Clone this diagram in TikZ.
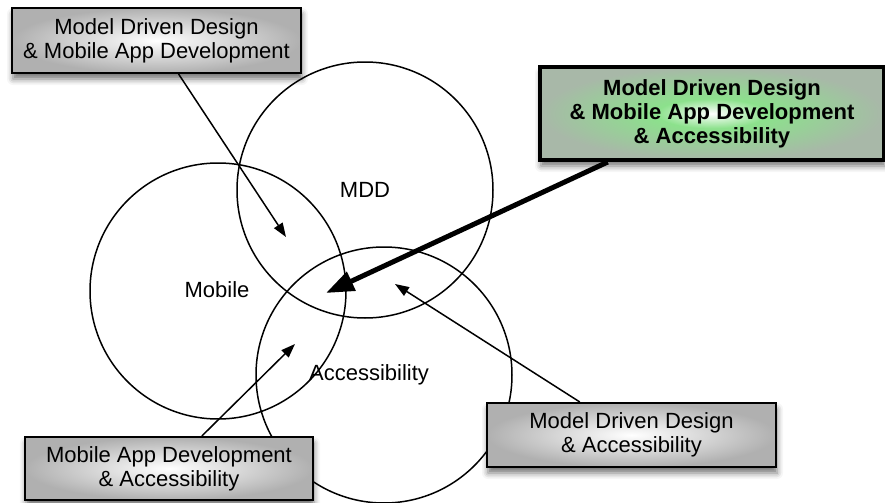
\documentclass[tikz,border=0pt]{standalone}
\usepackage{fontspec}
\setmainfont{Liberation Sans}
\usetikzlibrary{arrows.meta,shadows.blur}
\definecolor{glowgreen}{RGB}{140,225,140}
\definecolor{glowedge}{RGB}{168,184,168}
\pgfdeclareradialshading{greenglow}{\pgfpoint{0bp}{0bp}}{color(0bp)=(white); color(8bp)=(glowgreen); color(25bp)=(glowedge); color(50bp)=(glowedge)}
\begin{document}
\begin{tikzpicture}[
			x=0.5pt, y=-0.5pt,
			font=\fontsize{11}{12}\selectfont,
			set/.style={circle, draw, line width=0.75pt, minimum size=128pt, inner sep=0pt},
			combo/.style={rectangle, draw, line width=1pt, align=center, shading=radial,
					inner color=white, outer color=gray!62,
					blur shadow={shadow xshift=0.5pt, shadow yshift=-3pt, shadow blur radius=3pt, shadow opacity=55}},
			pointer/.style={-{Triangle[length=7pt,width=5pt]}, line width=0.75pt}
		]
		\useasboundingbox (0,0) rectangle (885,503);
		% the three sets
		\node[set] (mdd) at (365,190) {};
		\node[set] (mobile) at (218,291) {};
		\node[set] (access) at (384,375) {};
		\node (mddlbl) at (365,190) {MDD};
		\node (mobilelbl) at (217,290) {Mobile};
		\node (accesslbl) at (369,375) {Accessibility};
		% where the arrows point
		\coordinate (mddmobtip) at (286,237);
		\coordinate (alltip) at (326,293);
		\coordinate (mobacctip) at (295,344);
		\coordinate (mddacctip) at (395,284);
		% the overlap boxes
		\node[combo, minimum width=144.5pt, minimum height=32.5pt] (mddmob) at (156.5,40.5)
			{Model Driven Design\\ \& Mobile App Development};
		\node[combo, line width=2pt, shading=greenglow, minimum width=172pt, minimum height=46.5pt,
			font=\fontsize{11}{12}\selectfont\bfseries] (all) at (712,113.5)
			{Model Driven Design\\ \& Mobile App Development\\ \& Accessibility};
		\node[combo, minimum width=144pt, minimum height=31.5pt] (mobacc) at (169,468.5)
			{Mobile App Development\\ \& Accessibility};
		\node[combo, minimum width=144.5pt, minimum height=32pt] (mddacc) at (631.5,435)
			{Model Driven Design\\ \& Accessibility};
		\draw[pointer] (mddmob) -- (mddmobtip);
		\draw[pointer] (mobacc) -- (mobacctip);
		\draw[pointer] (mddacc) -- (mddacctip);
		\draw[-{Triangle[length=14pt,width=10pt]}, line width=2.5pt] (all) -- (alltip);
	\end{tikzpicture}
\end{document}
